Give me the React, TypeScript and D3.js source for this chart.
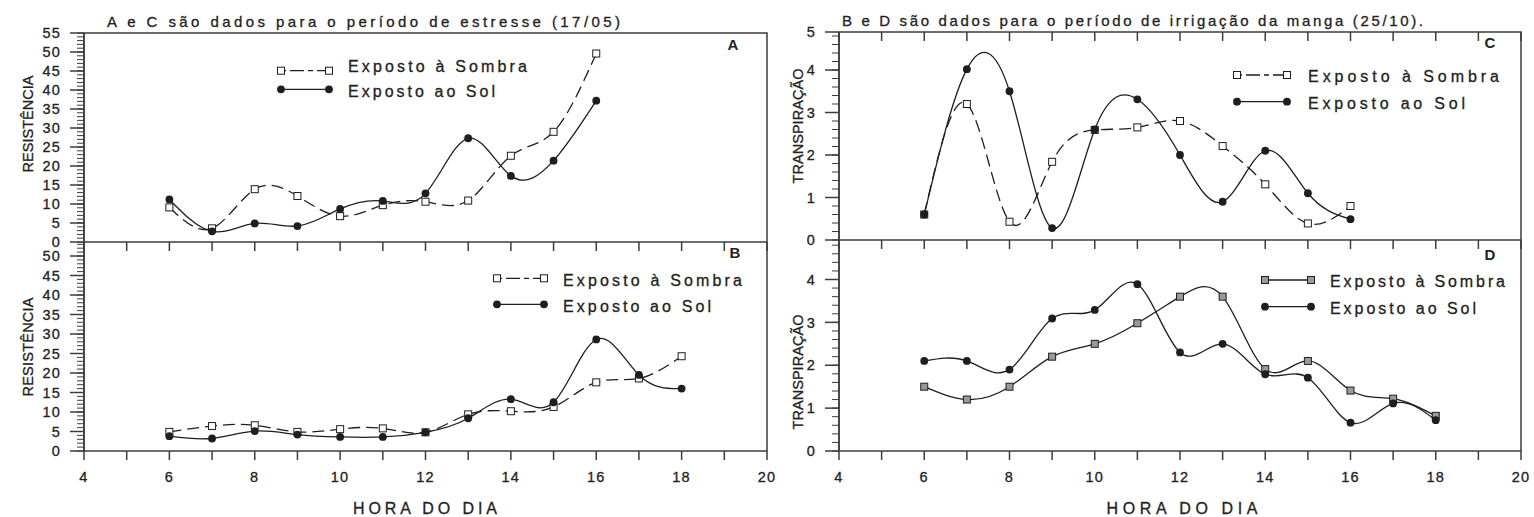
import React from 'react';
import * as d3 from 'd3';

// ---------------- DATA ----------------
const hoursAC = [6, 7, 8, 9, 10, 11, 12, 13, 14, 15, 16];
const hoursBD = [6, 7, 8, 9, 10, 11, 12, 13, 14, 15, 16, 17, 18];

const sombraA = [9.1, 3.6, 13.9, 12.1, 6.8, 9.7, 10.6, 10.9, 22.7, 29.0, 49.6];
const solA = [11.2, 2.8, 4.9, 4.2, 8.7, 10.8, 12.8, 27.3, 17.4, 21.4, 37.2];

const sombraB = [4.9, 6.4, 6.6, 4.9, 5.6, 5.8, 4.8, 9.4, 10.2, 11.3, 17.6, 18.6, 24.3];
const solB = [3.8, 3.2, 5.1, 4.2, 3.6, 3.6, 4.8, 8.4, 13.3, 12.5, 28.6, 19.5, 16.0];

const sombraC = [0.6, 3.2, 0.43, 1.84, 2.59, 2.65, 2.8, 2.21, 1.31, 0.39, 0.8];
const solC = [0.6, 4.02, 3.5, 0.28, 2.6, 3.31, 2.0, 0.9, 2.1, 1.1, 0.49];

const sombraD = [1.5, 1.2, 1.5, 2.2, 2.5, 2.98, 3.6, 3.6, 1.91, 2.1, 1.41, 1.22, 0.82];
const solD = [2.1, 2.1, 1.9, 3.09, 3.29, 3.89, 2.3, 2.5, 1.79, 1.71, 0.66, 1.11, 0.72];

const xTicks = [4, 6, 8, 10, 12, 14, 16, 18, 20];
const resistTicksA = [0, 5, 10, 15, 20, 25, 30, 35, 40, 45, 50, 55];
const resistTicksB = [0, 5, 10, 15, 20, 25, 30, 35, 40, 45, 50];
const transpTicksC = [0, 1, 2, 3, 4, 5];
const transpTicksD = [0, 1, 2, 3, 4];

const legendLabels = ['Exposto à Sombra', 'Exposto ao Sol'];
const titleLeft = 'A e C são dados para o período de estresse (17/05)';
const titleRight = 'B e D são dados para o período de irrigação da manga (25/10).';
const xTitle = 'HORA DO DIA';
const yTitleLeft = 'RESISTÊNCIA';
const yTitleRight = 'TRANSPIRAÇÃO';

// ---------------- STYLE ----------------
const FONT = '"Liberation Sans", Arial, sans-serif';
const INK = '#1e1e1e';
const AXIS = '#3c3c3c';
const TXT = '#222';
const HEAVY = { stroke: TXT, strokeWidth: 0.3 };

// ---------------- LAYOUT ----------------
const L = { x0: 84, x1: 767, top: 33, mid: 242, bottom: 451 };
const R = { x0: 839, x1: 1521, top: 32, mid: 240, bottom: 451 };

const xL = d3.scaleLinear().domain([4, 20]).range([L.x0, L.x1]);
const xR = d3.scaleLinear().domain([4, 20]).range([R.x0, R.x1]);
const yA = d3.scaleLinear().domain([0, 55]).range([L.mid, L.top]);
const yB = d3.scaleLinear().domain([0, 50]).range([L.bottom, 256]);
const yC = d3.scaleLinear().domain([0, 4]).range([R.mid, 70]);
const yD = d3.scaleLinear().domain([0, 4]).range([R.bottom, 279.5]);

type Scale = d3.ScaleLinear<number, number>;

function Series({ x, y, hours, values, dashed, marker, squareFill }: {
  x: Scale; y: Scale; hours: number[]; values: number[]; dashed: boolean; marker: 'square' | 'circle'; squareFill?: string;
}) {
  const line = d3.line<number>()
    .x((_, i) => x(hours[i]))
    .y((d) => y(d))
    .curve(d3.curveNatural);
  return (
    <g>
      <path d={line(values) || ''} fill="none" stroke={INK} strokeWidth={1.3}
        strokeDasharray={dashed ? '12,6' : undefined} />
      {values.map((v, i) =>
        marker === 'square' ? (
          <rect key={i} x={x(hours[i]) - 3.5} y={y(v) - 3.5} width={7} height={7}
            fill={squareFill || '#fff'} stroke={INK} strokeWidth={1} />
        ) : (
          <circle key={i} cx={x(hours[i])} cy={y(v)} r={3.9} fill={INK} />
        )
      )}
    </g>
  );
}

function YAxis({ x0, y, ticks, minorStep, top, bottom }: {
  x0: number; y: Scale; ticks: number[]; minorStep: number; top: number; bottom: number;
}) {
  const maxV = y.invert(top);
  const minors = d3.range(0, maxV + 1e-6, minorStep).filter((v) => y(v) >= top - 0.5 && y(v) <= bottom + 0.5);
  return (
    <g>
      <line x1={x0} x2={x0} y1={top} y2={bottom} stroke={AXIS} strokeWidth={1.5} />
      {minors.map((v, i) => (
        <line key={'m' + i} x1={x0 - 7} x2={x0} y1={y(v)} y2={y(v)} stroke={AXIS} strokeWidth={1} />
      ))}
      {ticks.map((v) => {
        const yy = Math.max(y(v), top);
        return (
          <g key={v}>
            <line x1={x0 - 14} x2={x0} y1={yy} y2={yy} stroke={AXIS} strokeWidth={1.5} />
            <text x={x0 - 23} y={yy} dy="0.36em" textAnchor="end" fontFamily={FONT} fontSize={14.5}
              letterSpacing={1.2} fill={TXT} {...HEAVY}>{v}</text>
          </g>
        );
      })}
    </g>
  );
}

function XTicks({ x, yPos, dir, len }: { x: Scale; yPos: number; dir: number; len: number }) {
  const hrs = d3.range(4, 21, 1);
  return (
    <g>
      {hrs.map((h) => (
        <line key={h} x1={x(h)} x2={x(h)} y1={yPos} y2={yPos + dir * len} stroke={AXIS} strokeWidth={1.5} />
      ))}
    </g>
  );
}

function Legend({ x1, x2, ySombra, ySol, tx, tySombra, tySol, wSombra, wSol, dashed, squareFill }: {
  x1: number; x2: number; ySombra: number; ySol: number; tx: number; tySombra: number; tySol: number;
  wSombra: number; wSol: number; dashed: boolean; squareFill?: string;
}) {
  return (
    <g>
      <line x1={x1} x2={x2} y1={ySombra} y2={ySombra} stroke={INK} strokeWidth={1.3}
        strokeDasharray={dashed ? '5,4,14,4' : undefined} />
      {[x1, x2].map((xx, i) => (
        <rect key={i} x={xx - 3.5} y={ySombra - 3.5} width={7} height={7} fill={squareFill || '#fff'}
          stroke={INK} strokeWidth={1} />
      ))}
      <line x1={x1} x2={x2} y1={ySol} y2={ySol} stroke={INK} strokeWidth={1.3} />
      {[x1, x2].map((xx, i) => (
        <circle key={i} cx={xx} cy={ySol} r={3.9} fill={INK} />
      ))}
      <text x={tx} y={tySombra} fontFamily={FONT} fontSize={16} fill={TXT} textLength={wSombra}
        lengthAdjust="spacing" {...HEAVY}>{legendLabels[0]}</text>
      <text x={tx} y={tySol} fontFamily={FONT} fontSize={16} fill={TXT} textLength={wSol}
        lengthAdjust="spacing" {...HEAVY}>{legendLabels[1]}</text>
    </g>
  );
}

export default function App() {
  return (
    <svg width={1534} height={517} style={{ position: 'absolute', left: 0, top: 0, background: '#fff' }}>
      <rect x={0} y={0} width={1534} height={517} fill="#fff" />

      {/* Titles */}
      <text x={107} y={27} fontFamily={FONT} fontSize={15} fill={TXT} textLength={513} lengthAdjust="spacing" {...HEAVY}>{titleLeft}</text>
      <text x={842} y={26} fontFamily={FONT} fontSize={15} fill={TXT} textLength={581} lengthAdjust="spacing" {...HEAVY}>{titleRight}</text>

      {/* ---------- LEFT: A & B ---------- */}
      <rect x={L.x0} y={L.top} width={L.x1 - L.x0} height={L.bottom - L.top} fill="none" stroke={AXIS} strokeWidth={1.5} />
      <line x1={L.x0} x2={L.x1} y1={L.mid} y2={L.mid} stroke={AXIS} strokeWidth={1.5} />
      <XTicks x={xL} yPos={L.mid} dir={1} len={9} />
      <XTicks x={xL} yPos={L.bottom} dir={1} len={9} />
      <YAxis x0={L.x0} y={yA} ticks={resistTicksA} minorStep={1} top={L.top} bottom={L.mid} />
      <YAxis x0={L.x0} y={yB} ticks={resistTicksB} minorStep={1} top={L.mid} bottom={L.bottom} />
      {xTicks.map((t) => (
        <text key={t} x={xL(t)} y={482} textAnchor="middle" fontFamily={FONT} fontSize={14.5} letterSpacing={1.2} fill={TXT} {...HEAVY}>{t}</text>
      ))}
      <text x={425} y={514} textAnchor="middle" fontFamily={FONT} fontSize={16} fill={TXT} textLength={144} lengthAdjust="spacing" {...HEAVY}>{xTitle}</text>
      <text transform={`translate(33,124) rotate(-90)`} textAnchor="middle" fontFamily={FONT} fontSize={14.5} fill={TXT} textLength={97} lengthAdjust="spacing" {...HEAVY}>{yTitleLeft}</text>
      <text transform={`translate(33,347) rotate(-90)`} textAnchor="middle" fontFamily={FONT} fontSize={14.5} fill={TXT} textLength={99} lengthAdjust="spacing" {...HEAVY}>{yTitleLeft}</text>

      <text x={733} y={50} textAnchor="middle" fontFamily={FONT} fontSize={15} fontWeight="bold" fill={TXT}>A</text>
      <text x={735} y={258} textAnchor="middle" fontFamily={FONT} fontSize={15} fontWeight="bold" fill={TXT}>B</text>

      <Series x={xL} y={yA} hours={hoursAC} values={sombraA} dashed marker="square" />
      <Series x={xL} y={yA} hours={hoursAC} values={solA} dashed={false} marker="circle" />
      <Series x={xL} y={yB} hours={hoursBD} values={sombraB} dashed marker="square" />
      <Series x={xL} y={yB} hours={hoursBD} values={solB} dashed={false} marker="circle" />

      <Legend x1={281} x2={329} ySombra={70.7} ySol={89.3} tx={348} tySombra={72} tySol={97}
        wSombra={179} wSol={147} dashed />
      <Legend x1={497} x2={544} ySombra={278.3} ySol={304.3} tx={563} tySombra={286} tySol={312}
        wSombra={179} wSol={148} dashed />

      {/* ---------- RIGHT: C & D ---------- */}
      <rect x={R.x0} y={R.top} width={R.x1 - R.x0} height={R.bottom - R.top} fill="none" stroke={AXIS} strokeWidth={1.5} />
      <line x1={R.x0} x2={R.x1} y1={R.mid} y2={R.mid} stroke={AXIS} strokeWidth={1.5} />
      <XTicks x={xR} yPos={R.top} dir={1} len={9} />
      <XTicks x={xR} yPos={R.mid} dir={1} len={9} />
      <XTicks x={xR} yPos={R.bottom} dir={1} len={9} />
      <YAxis x0={R.x0} y={yC} ticks={transpTicksC} minorStep={0.2} top={R.top} bottom={R.mid} />
      <YAxis x0={R.x0} y={yD} ticks={transpTicksD} minorStep={0.2} top={R.mid} bottom={R.bottom} />
      {xTicks.map((t) => (
        <text key={t} x={xR(t)} y={482} textAnchor="middle" fontFamily={FONT} fontSize={14.5} letterSpacing={1.2} fill={TXT} {...HEAVY}>{t}</text>
      ))}
      <text x={1182} y={514} textAnchor="middle" fontFamily={FONT} fontSize={16} fill={TXT} textLength={151} lengthAdjust="spacing" {...HEAVY}>{xTitle}</text>
      <text transform={`translate(803,126) rotate(-90)`} textAnchor="middle" fontFamily={FONT} fontSize={14.5} fill={TXT} textLength={115} lengthAdjust="spacing" {...HEAVY}>{yTitleRight}</text>
      <text transform={`translate(803,372) rotate(-90)`} textAnchor="middle" fontFamily={FONT} fontSize={14.5} fill={TXT} textLength={115} lengthAdjust="spacing" {...HEAVY}>{yTitleRight}</text>

      <text x={1490} y={48} textAnchor="middle" fontFamily={FONT} fontSize={15} fontWeight="bold" fill={TXT}>C</text>
      <text x={1490} y={260} textAnchor="middle" fontFamily={FONT} fontSize={15} fontWeight="bold" fill={TXT}>D</text>

      <Series x={xR} y={yC} hours={hoursAC} values={sombraC} dashed marker="square" />
      <Series x={xR} y={yC} hours={hoursAC} values={solC} dashed={false} marker="circle" />
      <Series x={xR} y={yD} hours={hoursBD} values={sombraD} dashed={false} marker="square" squareFill="#9a9a9a" />
      <Series x={xR} y={yD} hours={hoursBD} values={solD} dashed={false} marker="circle" />

      <Legend x1={1237} x2={1287} ySombra={75} ySol={101.7} tx={1308} tySombra={82} tySol={109}
        wSombra={191} wSol={157} dashed />
      <Legend x1={1265} x2={1311} ySombra={280} ySol={306.7} tx={1330} tySombra={287} tySol={314}
        wSombra={175} wSol={146} dashed={false} squareFill="#9a9a9a" />
    </svg>
  );
}
